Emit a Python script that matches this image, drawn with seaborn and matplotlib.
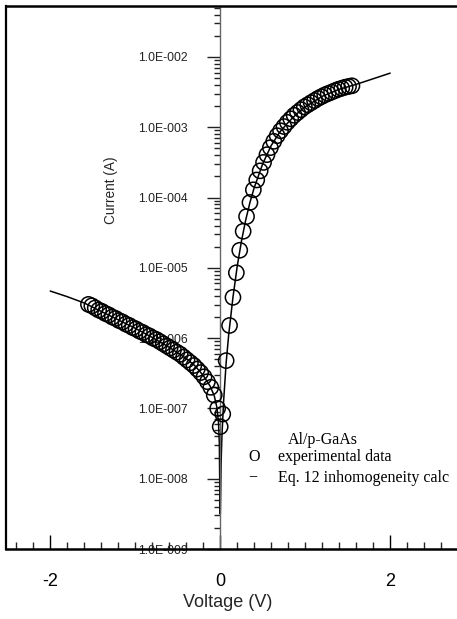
import numpy as np
import matplotlib
matplotlib.use("Agg")
import matplotlib.pyplot as plt
from matplotlib.ticker import FixedLocator, FuncFormatter, LogLocator, NullFormatter
import seaborn as sns

# Measured I-V data, Al/p-GaAs Schottky diode (log10 of |I| in A)
v_reverse = [-1.55, -1.51, -1.47, -1.43, -1.39, -1.35, -1.31, -1.27, -1.23, -1.19,
             -1.15, -1.11, -1.07, -1.03, -0.99, -0.95, -0.91, -0.87, -0.83, -0.79,
             -0.75, -0.71, -0.67, -0.63, -0.59, -0.55, -0.51, -0.47, -0.43, -0.39,
             -0.35, -0.31, -0.27, -0.23, -0.19, -0.15, -0.11, -0.07, -0.03]
log_i_reverse = [-5.52, -5.54, -5.57, -5.60, -5.62, -5.65, -5.67, -5.70, -5.72, -5.75,
                 -5.77, -5.80, -5.82, -5.85, -5.87, -5.90, -5.92, -5.95, -5.97, -6.00,
                 -6.02, -6.05, -6.08, -6.11, -6.14, -6.17, -6.20, -6.23, -6.27, -6.31,
                 -6.35, -6.39, -6.44, -6.49, -6.55, -6.62, -6.70, -6.81, -7.00]

v_forward = [0.00, 0.03, 0.07, 0.11, 0.15, 0.19, 0.23, 0.27, 0.31, 0.35,
             0.39, 0.43, 0.47, 0.51, 0.55, 0.59, 0.63, 0.67, 0.71, 0.75,
             0.79, 0.83, 0.87, 0.91, 0.95, 0.99, 1.03, 1.07, 1.11, 1.15,
             1.19, 1.23, 1.27, 1.31, 1.35, 1.39, 1.43, 1.47, 1.51, 1.55]
log_i_forward = [-7.26, -7.08, -6.32, -5.82, -5.42, -5.07, -4.75, -4.48, -4.27, -4.07,
                 -3.89, -3.75, -3.62, -3.50, -3.39, -3.29, -3.20, -3.12, -3.05, -2.99,
                 -2.93, -2.88, -2.83, -2.79, -2.75, -2.71, -2.68, -2.65, -2.62, -2.59,
                 -2.565, -2.54, -2.52, -2.50, -2.48, -2.46, -2.445, -2.43, -2.42, -2.41]

# Eq. 12 inhomogeneity calculation (log10 of |I| in A)
v_calc = [-2.0, -1.8, -1.6, -1.4, -1.2, -1.0, -0.8, -0.6, -0.4, -0.3, -0.2, -0.12,
          -0.07, -0.04, -0.02, -0.01, -0.002,
          0.002, 0.01, 0.02, 0.04, 0.07, 0.10, 0.15, 0.20, 0.25, 0.30, 0.35, 0.40,
          0.50, 0.60, 0.70, 0.80, 0.90, 1.00, 1.20, 1.40, 1.60, 1.80, 2.00]
log_i_calc = [-5.33, -5.41, -5.50, -5.62, -5.74, -5.86, -5.99, -6.13, -6.29, -6.39, -6.53, -6.68,
              -6.82, -6.98, -7.20, -7.50, -8.50,
              -8.50, -7.80, -7.40, -6.90, -6.35, -5.95, -5.42, -4.98, -4.62, -4.32, -4.07, -3.86,
              -3.52, -3.26, -3.07, -2.93, -2.81, -2.71, -2.56, -2.46, -2.39, -2.31, -2.23]

x_major = [-2, 0, 2]
x_tick_labels = ["-2", "0", "2"]
y_decades = [-9, -8, -7, -6, -5, -4, -3, -2]

legend_title = "Al/p-GaAs"
legend_data = "experimental data"
legend_calc = "Eq. 12 inhomogeneity calc"

sns.set_style("ticks")
plt.rcParams["font.family"] = ["Liberation Sans", "DejaVu Sans"]

W, H = 457, 619
fig = plt.figure(figsize=(W / 100, H / 100), dpi=100)
ax_left, ax_right, ax_top, ax_bottom = 6, 458.2, 6, 549
ax = fig.add_axes([ax_left / W, (H - ax_bottom) / H,
                   (ax_right - ax_left) / W, (ax_bottom - ax_top) / H])
ax.set_yscale("log")
ax.set_xlim(-2.52, 2.8)
ax.set_ylim(1e-9, 10 ** -1.275)

i_forward = [10 ** v for v in log_i_forward]
i_reverse = [10 ** v for v in log_i_reverse]
i_calc = [10 ** v for v in log_i_calc]

sns.lineplot(x=v_calc, y=i_calc, ax=ax, color="black", linewidth=1.1,
             sort=False, estimator=None, zorder=2)
for vv, ii in [(v_reverse, i_reverse), (v_forward, i_forward)]:
    sns.scatterplot(x=vv, y=ii, ax=ax, color="black", s=120, marker="o",
                    linewidth=1.1, zorder=3)
for coll in ax.collections:
    coll.set_facecolor("none")
    coll.set_edgecolor("black")

# Frame: y axis sits at V = 0, right spine reused as the left frame line
ax.spines["left"].set_position(("data", 0))
ax.spines["left"].set_color("#666666")
ax.spines["left"].set_linewidth(1.0)
ax.spines["right"].set_position(("axes", 0))
ax.spines["right"].set_linewidth(1.6)
ax.spines["top"].set_linewidth(1.8)
ax.spines["bottom"].set_linewidth(1.8)
for s in ["right", "top", "bottom"]:
    ax.spines[s].set_color("black")
ax.xaxis.set_ticks_position("bottom")
ax.yaxis.set_ticks_position("left")

ax.xaxis.set_major_locator(FixedLocator(x_major))
ax.set_xticklabels(x_tick_labels)
ax.xaxis.set_minor_locator(FixedLocator(np.round(np.arange(-2.4, 2.61, 0.2), 1)))
ax.tick_params(axis="x", which="major", direction="in", length=10, width=1.0,
               labelsize=13, pad=17, colors="black")
ax.tick_params(axis="x", which="minor", direction="in", length=5, width=1.0)

ax.yaxis.set_major_locator(FixedLocator([10.0 ** d for d in y_decades]))
ax.yaxis.set_major_formatter(FuncFormatter(lambda y, p: "1.0E-%03d" % round(-np.log10(y))))
ax.yaxis.set_minor_locator(LogLocator(base=10, subs=np.arange(2, 10), numticks=20))
ax.yaxis.set_minor_formatter(NullFormatter())
ax.tick_params(axis="y", which="major", direction="out", length=9.5, width=1.0,
               labelsize=8.8, pad=14, colors="#222222")
ax.tick_params(axis="y", which="minor", direction="out", length=4.5, width=1.0,
               colors="#222222")

ax.set_xlabel("Voltage (V)", fontsize=13)
ax.xaxis.set_label_coords(0.491, -0.0994)
ax.xaxis.label.set_va("center")
ax.set_ylabel("Current (A)", fontsize=9.8)
ax.yaxis.set_label_coords(0.232, 0.661)
ax.yaxis.label.set_va("center")


def frac(x, y):
    return (x - ax_left) / (ax_right - ax_left), (ax_bottom - y) / (ax_bottom - ax_top)


serif = ["Liberation Serif", "DejaVu Serif"]
for (px, py), txt in [((288, 440), legend_title), ((248, 457), "O"),
                      ((278, 457), legend_data), ((248, 478), "\u2212"),
                      ((278, 478), legend_calc)]:
    fx, fy = frac(px, py)
    ax.text(fx, fy, txt, transform=ax.transAxes, fontsize=11.5, family=serif,
            ha="left", va="center", color="black")

fig.savefig("out.png", dpi=100)
